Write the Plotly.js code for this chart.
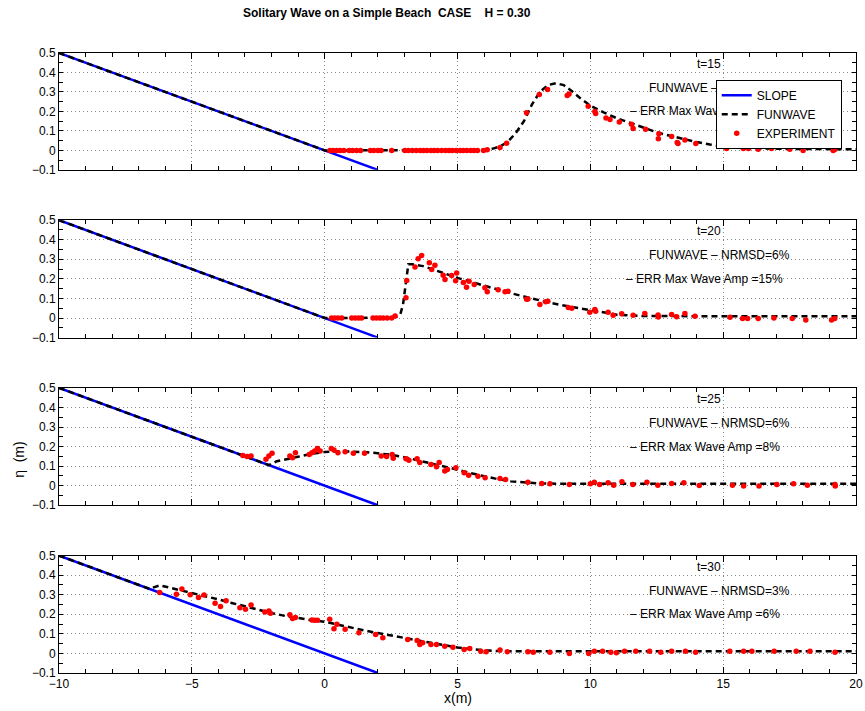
<!DOCTYPE html>
<html><head><meta charset="utf-8">
<script src="https://cdn.plot.ly/plotly-3.0.1.min.js"></script>
<style>body{margin:0;background:#fff}#c{width:865px;height:711px}</style>
</head><body><div id="c"></div>
<script>
// ---- data ----
var slopeX = [-10, 2];
var slopeY = [0.5, -0.1];

var times = ['t=15', 't=20', 't=25', 't=30'];
var nrmsd = ['FUNWAVE \u2013 NRMSD=5%', 'FUNWAVE \u2013 NRMSD=6%', 'FUNWAVE \u2013 NRMSD=6%', 'FUNWAVE \u2013 NRMSD=3%'];
var errAmp = ['\u2013 ERR Max Wave Amp =4%', '\u2013 ERR Max Wave Amp =15%', '\u2013 ERR Max Wave Amp =8%', '\u2013 ERR Max Wave Amp =6%'];

var funX_t15 = [-10,-8,-6,-4,-2,0,1,2,3,4,5,5.5,6,6.3,6.6,6.9,7.2,7.5,7.8,8.1,8.4,8.7,9.0,9.3,9.6,10,10.5,11,11.5,12,12.5,13,13.5,14,14.5,15,15.5,16,17,18,19,20];
var funY_t15 = [0.5,0.4,0.3,0.2,0.1,0,0,0,0,0,0,0,0.002,0.008,0.02,0.045,0.09,0.15,0.235,0.3,0.335,0.345,0.335,0.305,0.27,0.23,0.195,0.165,0.14,0.115,0.093,0.075,0.058,0.043,0.03,0.02,0.014,0.011,0.008,0.007,0.006,0.006];
var expX_t15 = [0.2,0.32,0.45,0.58,0.72,0.92,1.05,1.2,1.35,1.72,1.85,2.0,2.12,2.52,3.02,3.15,3.3,3.45,3.6,3.72,3.85,4.0,4.12,4.25,4.4,4.55,4.68,4.8,4.95,5.1,5.22,5.35,5.5,5.62,5.75,5.98,6.12,6.6,6.85,7.6,8.08,8.39,9.13,9.2,9.92,10.17,10.2,10.59,10.74,11.09,11.55,11.61,12.08,12.58,12.56,13.06,13.27,13.3,13.56,13.97,15.13,15.76,15.95,16.32,16.82,17.51,18.01,19.14,19.2];
var expY_t15 = [0,0,0,0,0,0,0,0,0,0,0,0,0,0,0,0,0,0,0,0,0,0,0,0,0,0,0,0,0,0,0,0,0,0,0,0,0.003,0.015,0.037,0.193,0.287,0.312,0.282,0.29,0.227,0.2,0.19,0.166,0.159,0.146,0.134,0.112,0.108,0.086,0.06,0.071,0.04,0.035,0.053,0.035,0.01,0.01,0.01,0.006,0.01,0.006,0.0,0.0,0.005];

var funX_t20 = [-10,-8,-6,-4,-2,0,1,2,2.5,2.7,2.85,2.95,3.05,3.15,3.3,3.5,3.7,4,4.5,5,5.5,6,6.5,7,7.5,8,8.5,9,9.5,10,10.5,11,12,13,14,16,18,20];
var funY_t20 = [0.5,0.4,0.3,0.2,0.1,0,0,0,0.002,0.006,0.02,0.07,0.18,0.275,0.275,0.27,0.265,0.252,0.228,0.205,0.185,0.165,0.145,0.127,0.11,0.092,0.077,0.064,0.052,0.043,0.03,0.017,0.01,0.009,0.009,0.009,0.009,0.009];
var expX_t20 = [0.26,0.38,0.5,0.64,1.02,1.15,1.28,1.39,1.82,1.95,2.08,2.2,2.35,2.52,2.65,3.06,3.09,3.40,3.52,3.65,3.94,4.03,4.15,4.46,4.53,4.78,4.93,4.97,5.22,5.34,5.43,5.63,6.03,6.12,6.53,6.79,6.9,7.6,7.65,8.1,8.32,8.4,9.17,9.3,9.98,10.17,10.2,10.67,10.86,11.18,11.61,12.05,12.55,12.56,13.06,13.25,13.56,13.94,15.26,15.73,15.92,16.32,16.91,17.6,18.11,19.08,19.2];
var expY_t20 = [0,0,0,0,0,0,0,0,0,0,0,0,0,0,0.01,0.103,0.192,0.26,0.303,0.32,0.282,0.248,0.27,0.219,0.197,0.217,0.191,0.23,0.182,0.157,0.188,0.171,0.154,0.134,0.145,0.134,0.137,0.096,0.097,0.069,0.083,0.085,0.054,0.05,0.03,0.044,0.035,0.03,0.014,0.022,0.014,0.023,0.016,0.005,0.018,0.006,0.023,0.009,0.004,-0.003,-0.003,-0.003,0.0,-0.003,-0.01,-0.01,-0.003];

var funX_t25 = [-10,-8,-6,-4,-2.1,-1.8,-1.4,-1,-0.5,0,0.5,1,1.5,2,2.5,3,3.5,4,4.5,5,5.5,6,6.5,7,7.5,8,9,10,12,14,16,18,20];
var funY_t25 = [0.5,0.4,0.3,0.2,0.105,0.125,0.135,0.148,0.163,0.172,0.176,0.175,0.172,0.166,0.158,0.146,0.131,0.114,0.098,0.082,0.064,0.048,0.034,0.023,0.016,0.012,0.01,0.01,0.01,0.01,0.01,0.01,0.01];
var expX_t25 = [-3.08,-2.92,-2.77,-2.21,-2.1,-1.98,-1.31,-1.21,-1.1,-0.58,-0.48,-0.375,-0.27,-0.17,0.25,0.35,0.5,0.77,1.08,1.5,2.13,2.33,2.54,2.58,3.06,3.17,3.48,3.58,4.0,4.21,4.31,4.52,4.62,4.94,5.25,5.42,5.77,6.04,6.6,6.81,7.65,8.17,8.48,9.21,10.0,10.15,10.35,10.67,10.88,11.19,11.6,12.13,12.54,13.06,13.52,14.1,15.35,15.77,16.35,17.02,17.65,18.17,19.21,19.22];
var expY_t25 = [0.155,0.149,0.152,0.135,0.152,0.166,0.152,0.143,0.169,0.16,0.169,0.178,0.19,0.178,0.19,0.183,0.169,0.173,0.166,0.166,0.152,0.149,0.16,0.14,0.138,0.13,0.138,0.118,0.109,0.097,0.118,0.075,0.083,0.092,0.066,0.053,0.049,0.041,0.037,0.032,0.018,0.011,0.01,0.006,0.01,0.018,0.006,0.015,0.003,0.02,0.006,0.018,0.003,0.011,0.015,0.001,0.003,-0.002,-0.002,0.006,0.01,0.003,0.006,-0.002];

var funX_t30 = [-10,-8,-6.6,-6.2,-5.5,-5,-4.5,-4,-3.5,-3,-2.5,-2,-1.5,-1,-0.5,0,0.5,1,1.5,2,2.5,3,3.5,4,4.5,5,5.5,6,6.5,7,8,10,12,14,16,18,20];
var funY_t30 = [0.5,0.4,0.33,0.348,0.326,0.31,0.293,0.276,0.258,0.24,0.223,0.206,0.192,0.18,0.17,0.162,0.146,0.13,0.117,0.104,0.092,0.08,0.068,0.055,0.042,0.03,0.022,0.016,0.012,0.011,0.011,0.011,0.011,0.011,0.011,0.011,0.011];
var expX_t30 = [-6.21,-5.58,-5.375,-5.06,-4.75,-4.54,-4.125,-3.92,-3.71,-3.19,-2.98,-2.77,-2.25,-2.1,-2.04,-1.31,-1.21,-1.1,-0.48,-0.375,-0.27,0.19,0.35,0.46,0.77,1.29,1.92,2.19,3.125,3.48,3.58,3.69,4.0,4.21,4.52,4.83,5.25,5.46,5.875,6.08,6.6,6.875,7.65,7.85,8.48,9.21,9.94,10.15,10.46,10.77,10.98,11.29,11.71,12.23,12.65,13.06,13.58,13.96,15.25,15.77,16.08,16.92,17.75,18.27,19.21];
var expY_t30 = [0.311,0.303,0.329,0.3,0.286,0.298,0.257,0.24,0.269,0.234,0.226,0.248,0.212,0.217,0.205,0.197,0.178,0.183,0.171,0.169,0.169,0.174,0.126,0.149,0.123,0.106,0.097,0.08,0.071,0.066,0.046,0.054,0.046,0.046,0.037,0.032,0.02,0.025,0.011,0.008,0.017,0.008,0.008,0.006,0.006,0.0,0.0,0.011,0.011,0.006,0.003,0.011,0.011,0.011,0.006,0.011,0.011,0.006,0.011,0.011,0.011,0.011,0.011,0.011,0.006];

var funX = [funX_t15, funX_t20, funX_t25, funX_t30];
var funY = [funY_t15, funY_t20, funY_t25, funY_t30];
var expX = [expX_t15, expX_t20, expX_t25, expX_t30];
var expY = [expY_t15, expY_t20, expY_t25, expY_t30];

// ---- build ----
var FONT = 'Liberation Sans, Arial, Helvetica, sans-serif';
var domains = [[0.8115, 1.0], [0.541, 0.7304], [0.2705, 0.4599], [0, 0.1894]];
var traces = [];
var layout = {
  width: 865, height: 711,
  margin: {l: 59, r: 9, t: 53, b: 38},
  paper_bgcolor: 'white', plot_bgcolor: 'white',
  font: {family: FONT, size: 12, color: 'black'},
  showlegend: true,
  legend: {x: 0.824, y: 0.957, xanchor: 'left', yanchor: 'top', bgcolor: 'white',
           bordercolor: 'black', borderwidth: 1, font: {family: FONT, size: 12, color: 'black'},
           tracegroupgap: 0, itemwidth: 30},
  title: {text: 'Solitary Wave on a Simple Beach \u00a0CASE \u00a0\u00a0\u00a0H = 0.30', xref: 'container', x: 0.447, xanchor: 'center',
          yref: 'container', y: 0.9817, yanchor: 'middle', font: {family: FONT, size: 12, color: 'black', weight: 'bold'}},
  annotations: []
};

for (var i = 0; i < 4; i++) {
  var sfx = i === 0 ? '' : String(i + 1);
  var xa = 'x' + sfx, ya = 'y' + sfx;
  traces.push({x: slopeX, y: slopeY, xaxis: xa, yaxis: ya, mode: 'lines', name: 'SLOPE',
               line: {color: '#0000ff', width: 2.5}, showlegend: i === 0});
  traces.push({x: funX[i], y: funY[i], xaxis: xa, yaxis: ya, mode: 'lines', name: 'FUNWAVE',
               line: {color: 'black', width: 2.5, dash: '6px,4px'}, showlegend: i === 0});
  traces.push({x: expX[i], y: expY[i], xaxis: xa, yaxis: ya, mode: 'markers', name: 'EXPERIMENT',
               marker: {color: '#ff0000', size: 5.5}, showlegend: i === 0});
  layout['xaxis' + sfx] = {
    domain: [0, 1], range: [-10, 20], anchor: ya, showline: true, mirror: 'allticks',
    linecolor: 'black', linewidth: 1, ticks: 'inside', ticklen: 6, tickcolor: 'black', tickwidth: 1,
    tick0: 0, dtick: 5, showgrid: true, gridcolor: '#888', griddash: '1px,3px', gridwidth: 1,
    zeroline: false, showticklabels: i === 3, tickfont: {family: FONT, size: 12, color: 'black'},
    minor: {ticks: 'inside', dtick: 1, ticklen: 4, tickcolor: 'black', showgrid: false}
  };
  layout['yaxis' + sfx] = {
    domain: domains[i], range: [-0.1, 0.5], anchor: xa, showline: true, mirror: 'allticks',
    linecolor: 'black', linewidth: 1, ticks: 'inside', ticklen: 4, tickcolor: 'black', tickwidth: 1,
    tick0: 0, dtick: 0.1, showgrid: true, gridcolor: '#888', griddash: '1px,3px', gridwidth: 1,
    zeroline: false, tickfont: {family: FONT, size: 12, color: 'black'},
    minor: {ticks: 'inside', dtick: 0.05, ticklen: 4, tickcolor: 'black', showgrid: false}
  };
  layout.annotations.push({xref: xa, yref: ya, x: 14.46, y: 0.444, text: times[i], showarrow: false,
    font: {family: FONT, size: 12, color: 'black'}});
  layout.annotations.push({xref: xa, yref: ya, x: 14.86, y: 0.321, text: nrmsd[i], showarrow: false,
    font: {family: FONT, size: 12, color: 'black'}});
  layout.annotations.push({xref: xa, yref: ya, x: 14.3, y: 0.2, text: errAmp[i], showarrow: false,
    font: {family: FONT, size: 12, color: 'black'}});
}
layout.annotations.push({xref: 'x4', yref: 'paper', x: 5, y: -0.04, yanchor: 'middle', text: 'x(m)', showarrow: false,
  font: {family: FONT, size: 14, color: 'black'}});
layout.annotations.push({xref: 'paper', yref: 'paper', x: -0.05, y: 0.344, xanchor: 'center', yanchor: 'middle',
  text: '\u03b7  (m)', textangle: -90, showarrow: false, font: {family: FONT, size: 14, color: 'black'}});

Plotly.newPlot('c', traces, layout, {displayModeBar: false, staticPlot: true}).then(function (gd) {
  // the reference draws its legend box on top of the panel text
  var lg = gd.querySelector('g.legend');
  var anns = gd.querySelectorAll('g.annotation');
  if (lg) {
    var parent = anns.length ? anns[anns.length - 1].parentNode : lg.parentNode;
    parent.appendChild(lg);
  }
});
</script></body></html>
